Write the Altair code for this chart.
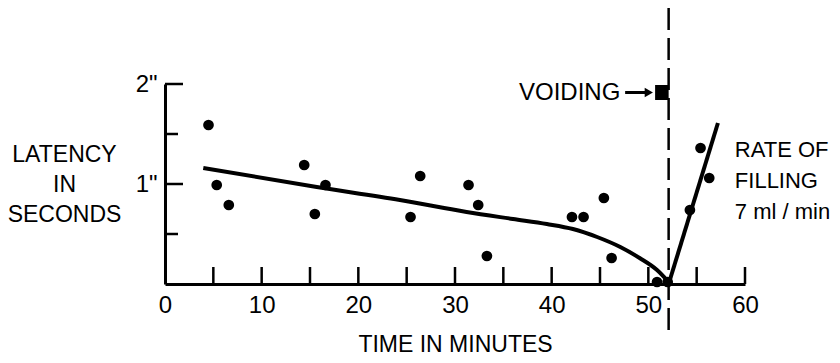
import altair as alt
import pandas as pd

# observed latencies
time_pts = [4.5, 5.35, 6.6, 14.4, 15.5, 16.6, 25.4, 26.4, 31.4, 32.4, 33.3,
            42.1, 43.3, 45.4, 46.2, 50.9, 52.0, 54.3, 55.4, 56.3]
lat_pts = [1.59, 0.99, 0.79, 1.19, 0.70, 0.99, 0.67, 1.08, 0.99, 0.79, 0.28,
           0.67, 0.67, 0.86, 0.26, 0.02, 0.02, 0.74, 1.36, 1.06]

# fitted curve before voiding
fit_t = [3.96, 15.7, 24.3, 31.2, 36.0, 39.5, 42.2, 44.7, 47.1, 49.1, 50.9, 52.1]
fit_y = [1.16, 0.97, 0.84, 0.72, 0.65, 0.60, 0.55, 0.47, 0.37, 0.26, 0.14, 0.02]

# rate of filling line after voiding
fill_t = [52.1, 57.2]
fill_y = [0.0, 1.61]

# voiding time
void_t = 52.1
void_span = [-0.46, 2.76]

x_ticks = [5, 10, 15, 20, 25, 30, 35, 40, 45, 50, 55, 60]
x_labels = [0, 10, 20, 30, 40, 50, 60]
y_major = [1, 2]
y_minor = [0.5, 1.5]

FONT = "Liberation Sans"

xs = alt.Scale(domain=[0, 60], nice=False, zero=False)
ys = alt.Scale(domain=[0, 2], nice=False, zero=False)

x_axis = alt.Axis(values=x_labels, ticks=False, tickSize=0, grid=False,
                  domainColor="black", domainWidth=3,
                  labelFont=FONT, labelFontSize=24, labelColor="black",
                  labelPadding=9, labelFlush=False,
                  title="TIME IN MINUTES", titleFont=FONT, titleFontSize=23,
                  titleFontWeight="normal", titleColor="black",
                  titleY=60, titleBaseline="middle")
y_axis = alt.Axis(values=y_major, ticks=False, tickSize=0, grid=False,
                  domainColor="black", domainWidth=3,
                  labelExpr="datum.value + '\"'",
                  labelFont=FONT, labelFontSize=24, labelColor="black",
                  labelPadding=8, labelFlush=False,
                  title=["LATENCY", "IN", "SECONDS"], titleAngle=0,
                  titleAlign="center", titleBaseline="middle",
                  titleX=-101, titleY=70, titleLineHeight=30,
                  titleFont=FONT, titleFontSize=23,
                  titleFontWeight="normal", titleColor="black")

X = alt.X("t:Q", scale=xs, axis=x_axis)
Y = alt.Y("y:Q", scale=ys, axis=y_axis)

pts_df = pd.DataFrame({"t": time_pts, "y": lat_pts})
fit_df = pd.DataFrame({"t": fit_t, "y": fit_y})
fill_df = pd.DataFrame({"t": fill_t, "y": fill_y})
void_df = pd.DataFrame({"t": [void_t, void_t], "y": void_span})

points = alt.Chart(pts_df).mark_circle(size=115, color="black", opacity=1).encode(x=X, y=Y)

fit_line = alt.Chart(fit_df).mark_line(color="black", strokeWidth=4,
                                       interpolate="monotone").encode(x=X, y=Y)

fill_line = alt.Chart(fill_df).mark_line(color="black", strokeWidth=4).encode(x=X, y=Y)

void_line = alt.Chart(void_df).mark_line(color="black", strokeWidth=2.5,
                                         strokeDash=[22, 8]).encode(x=X, y=Y)

xt = alt.Chart(pd.DataFrame({"t": x_ticks})).mark_rule(color="black", strokeWidth=2.5).encode(
    x=X, y=alt.value(200), y2=alt.value(183))

ytm = alt.Chart(pd.DataFrame({"y": y_major})).mark_rule(color="black", strokeWidth=2.5).encode(
    y=Y, x=alt.value(0), x2=alt.value(18))

ytn = alt.Chart(pd.DataFrame({"y": y_minor})).mark_rule(color="black", strokeWidth=2.5).encode(
    y=Y, x=alt.value(0), x2=alt.value(13))

# voiding marker
marker = alt.Chart(pd.DataFrame({"t": [50.7], "t2": [void_t], "y": [1.84], "y2": [1.99]})).mark_rect(
    color="black").encode(x=X, x2="t2:Q", y=Y, y2="y2:Q")

arrow_shaft = alt.Chart(pd.DataFrame({"t": [47.6], "t2": [49.9], "y": [1.915]})).mark_rule(
    color="black", strokeWidth=3).encode(x=X, x2="t2:Q", y=Y)

arrow_head = alt.Chart(pd.DataFrame({"t": [50.05], "y": [1.915]})).mark_point(
    shape="triangle-right", filled=True, color="black", size=90, opacity=1).encode(x=X, y=Y)

void_text = alt.Chart(pd.DataFrame({"t": [47.1], "y": [1.91], "s": ["VOIDING"]})).mark_text(
    align="right", baseline="middle", font=FONT, fontSize=24, color="black").encode(
    x=X, y=Y, text="s:N")

rate_text = alt.Chart(pd.DataFrame({"t": [58.95], "y": [1.34], "s": ["RATE OF\nFILLING\n7 ml / min"]})).mark_text(
    align="left", baseline="middle", font=FONT, fontSize=22, color="black",
    lineBreak="\n", lineHeight=31).encode(x=X, y=Y, text="s:N")

chart = alt.layer(
    void_line, xt, ytm, ytn, fit_line, fill_line, points,
    marker, arrow_shaft, arrow_head, void_text, rate_text
).properties(
    width=580, height=200,
    autosize=alt.AutoSizeParams(type="none"),
    padding={"left": 157, "top": 76, "right": 87, "bottom": 71},
    background="white",
).configure_view(stroke=None)

chart.save("out.html", embed_options={"renderer": "svg", "actions": False})
